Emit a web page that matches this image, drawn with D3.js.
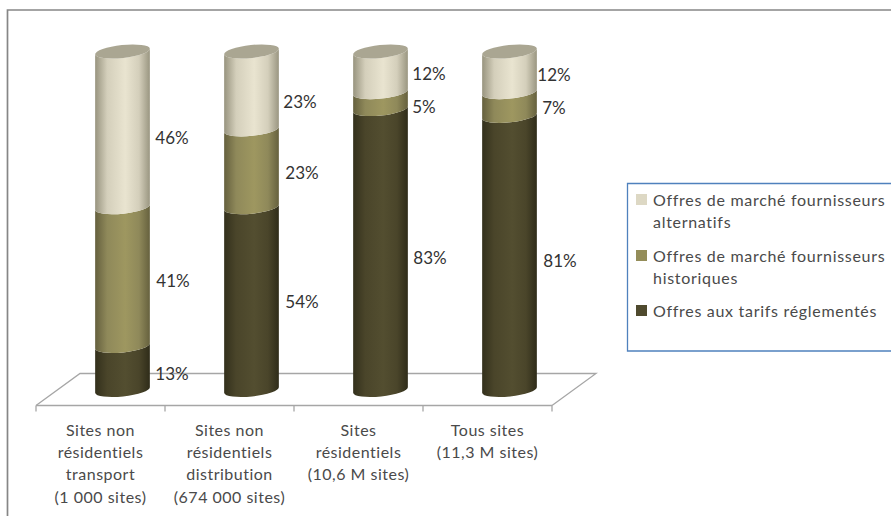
<!DOCTYPE html>
<html><head><meta charset="utf-8">
<script src="https://cdnjs.cloudflare.com/ajax/libs/d3/7.8.5/d3.min.js"></script>
<style>html,body{margin:0;padding:0;background:#fff}svg{display:block}text{font-family:Lato,"Open Sans",sans-serif;fill:#4a4a4a}</style>
</head><body><svg id="c" width="891" height="516"></svg>
<script>
const categories = [
  ["Sites non","résidentiels","transport","(1 000 sites)"],
  ["Sites non","résidentiels","distribution","(674 000 sites)"],
  ["Sites","résidentiels","(10,6 M sites)"],
  ["Tous sites","(11,3 M sites)"]
];
const reglementes = [13,54,83,81];
const historiques = [41,23,5,7];
const alternatifs = [46,23,12,12];
const seriesNames = ["Offres aux tarifs réglementés","Offres de marché fournisseurs historiques","Offres de marché fournisseurs alternatifs"];

// layout
const labelShift = [[6,4,9],[3,5,12],[9,6,2],[8,4,3]];
const labelX = [[172,173,172],[302,302,300],[430,424,429],[560,554,554]];
const legendLines = [["Offres aux tarifs réglementés"],["Offres de marché fournisseurs","historiques"],["Offres de marché fournisseurs","alternatifs"]];
const legendY = [311,256,200];
const gradStops = [
  ["#33301c","#4a452a","#534e30","#4a452a","#2f2c19"],
  ["#65603e","#8f895a","#9e9760","#8f895a","#66613e"],
  ["#98947f","#d4cfbb","#e9e4d0","#d4cfbb","#9a9681"]
];
const swatch = ["#4f4a2e","#948d59","#ddd8c4"];

const svg = d3.select("#c");
const defs = svg.append("defs");
gradStops.forEach((s,i)=>{
  const g = defs.append("linearGradient").attr("id","g"+i);
  [0,.22,.55,.8,1].forEach((o,j)=>g.append("stop").attr("offset",o).attr("stop-color",s[j]));
});

const x = d3.scaleBand().domain(d3.range(categories.length)).range([36,552]);
const y = d3.scaleLinear().domain([0,100]).range([390,51.5]);
const depthX = 44, depthY = 32, frontY = 405.5;
const rx = 27.5, ry = 6.5, rot = -6;

// frame
svg.append("path").attr("d","M7.5,516V10H891").attr("fill","none").attr("stroke","#868686").attr("stroke-width",1.7);

// floor
svg.append("path")
  .attr("d",`M36,${frontY}L${36+depthX},${frontY-depthY}H${552+depthX}L552,${frontY}`)
  .attr("fill","none").attr("stroke","#a6a6a6").attr("stroke-width",1.3);
const axisG = svg.append("g").attr("transform",`translate(0,${frontY})`);
axisG.append("path").attr("d","M36,0H552").attr("stroke","#a6a6a6").attr("stroke-width",1.6);
[...x.domain().map(d=>x(d)),552].forEach(t=>axisG.append("path").attr("d",`M${t},0V6`).attr("stroke","#a6a6a6").attr("stroke-width",1.3));

categories.forEach((lines,i)=>{
  const cx = x(i)+x.bandwidth()/2;
  lines.forEach((l,j)=>svg.append("text").attr("x",cx).attr("y",430+j*22.4).attr("dy","0.35em")
    .attr("text-anchor","middle").attr("font-size",16).attr("letter-spacing",0.5).text(l));
});

// cylinders
const stacks = categories.map((_,i)=>[reglementes[i],historiques[i],alternatifs[i]]);
stacks.forEach((vals,i)=>{
  const cx = x(i)+x.bandwidth()/2+22;
  const dx = rx*Math.cos(rot*Math.PI/180), dy = rx*Math.sin(rot*Math.PI/180);
  let acc = 0;
  const mids = [];
  vals.forEach((v,k)=>{
    const yb = y(acc), yt = y(acc+v);
    const d = `M${cx-dx},${yb-dy}A${rx},${ry},${rot},0,0,${cx+dx},${yb+dy}L${cx+dx},${yt+dy}A${rx},${ry},${rot},0,1,${cx-dx},${yt-dy}Z`;
    svg.append("path").attr("d",d).attr("fill",`url(#g${k})`);
    mids.push(acc+v/2);
    acc += v;
  });
  svg.append("ellipse").attr("rx",rx).attr("ry",ry).attr("fill","#aaa692")
    .attr("transform",`translate(${cx},${y(100)}) rotate(${rot})`);
  vals.forEach((v,k)=>svg.append("text")
    .attr("x",labelX[i][k]).attr("y",y(mids[k])+labelShift[i][k]).attr("dy","0.35em")
    .attr("text-anchor","middle").attr("font-size",17).style("fill","#333").text(v+"%"));
});

// legend
svg.append("path").attr("d","M891,183.5H627.5V351H891").attr("fill","none").attr("stroke","#4f81bd").attr("stroke-width",1.3);
legendLines.forEach((lines,k)=>{
  svg.append("rect").attr("x",636).attr("y",legendY[k]-6).attr("width",11).attr("height",11).attr("fill",swatch[k]);
  lines.forEach((l,j)=>svg.append("text").attr("x",653).attr("y",legendY[k]+j*22.4).attr("dy","0.35em")
    .attr("font-size",16).attr("letter-spacing",0.7).text(l));
});
</script></body></html>
